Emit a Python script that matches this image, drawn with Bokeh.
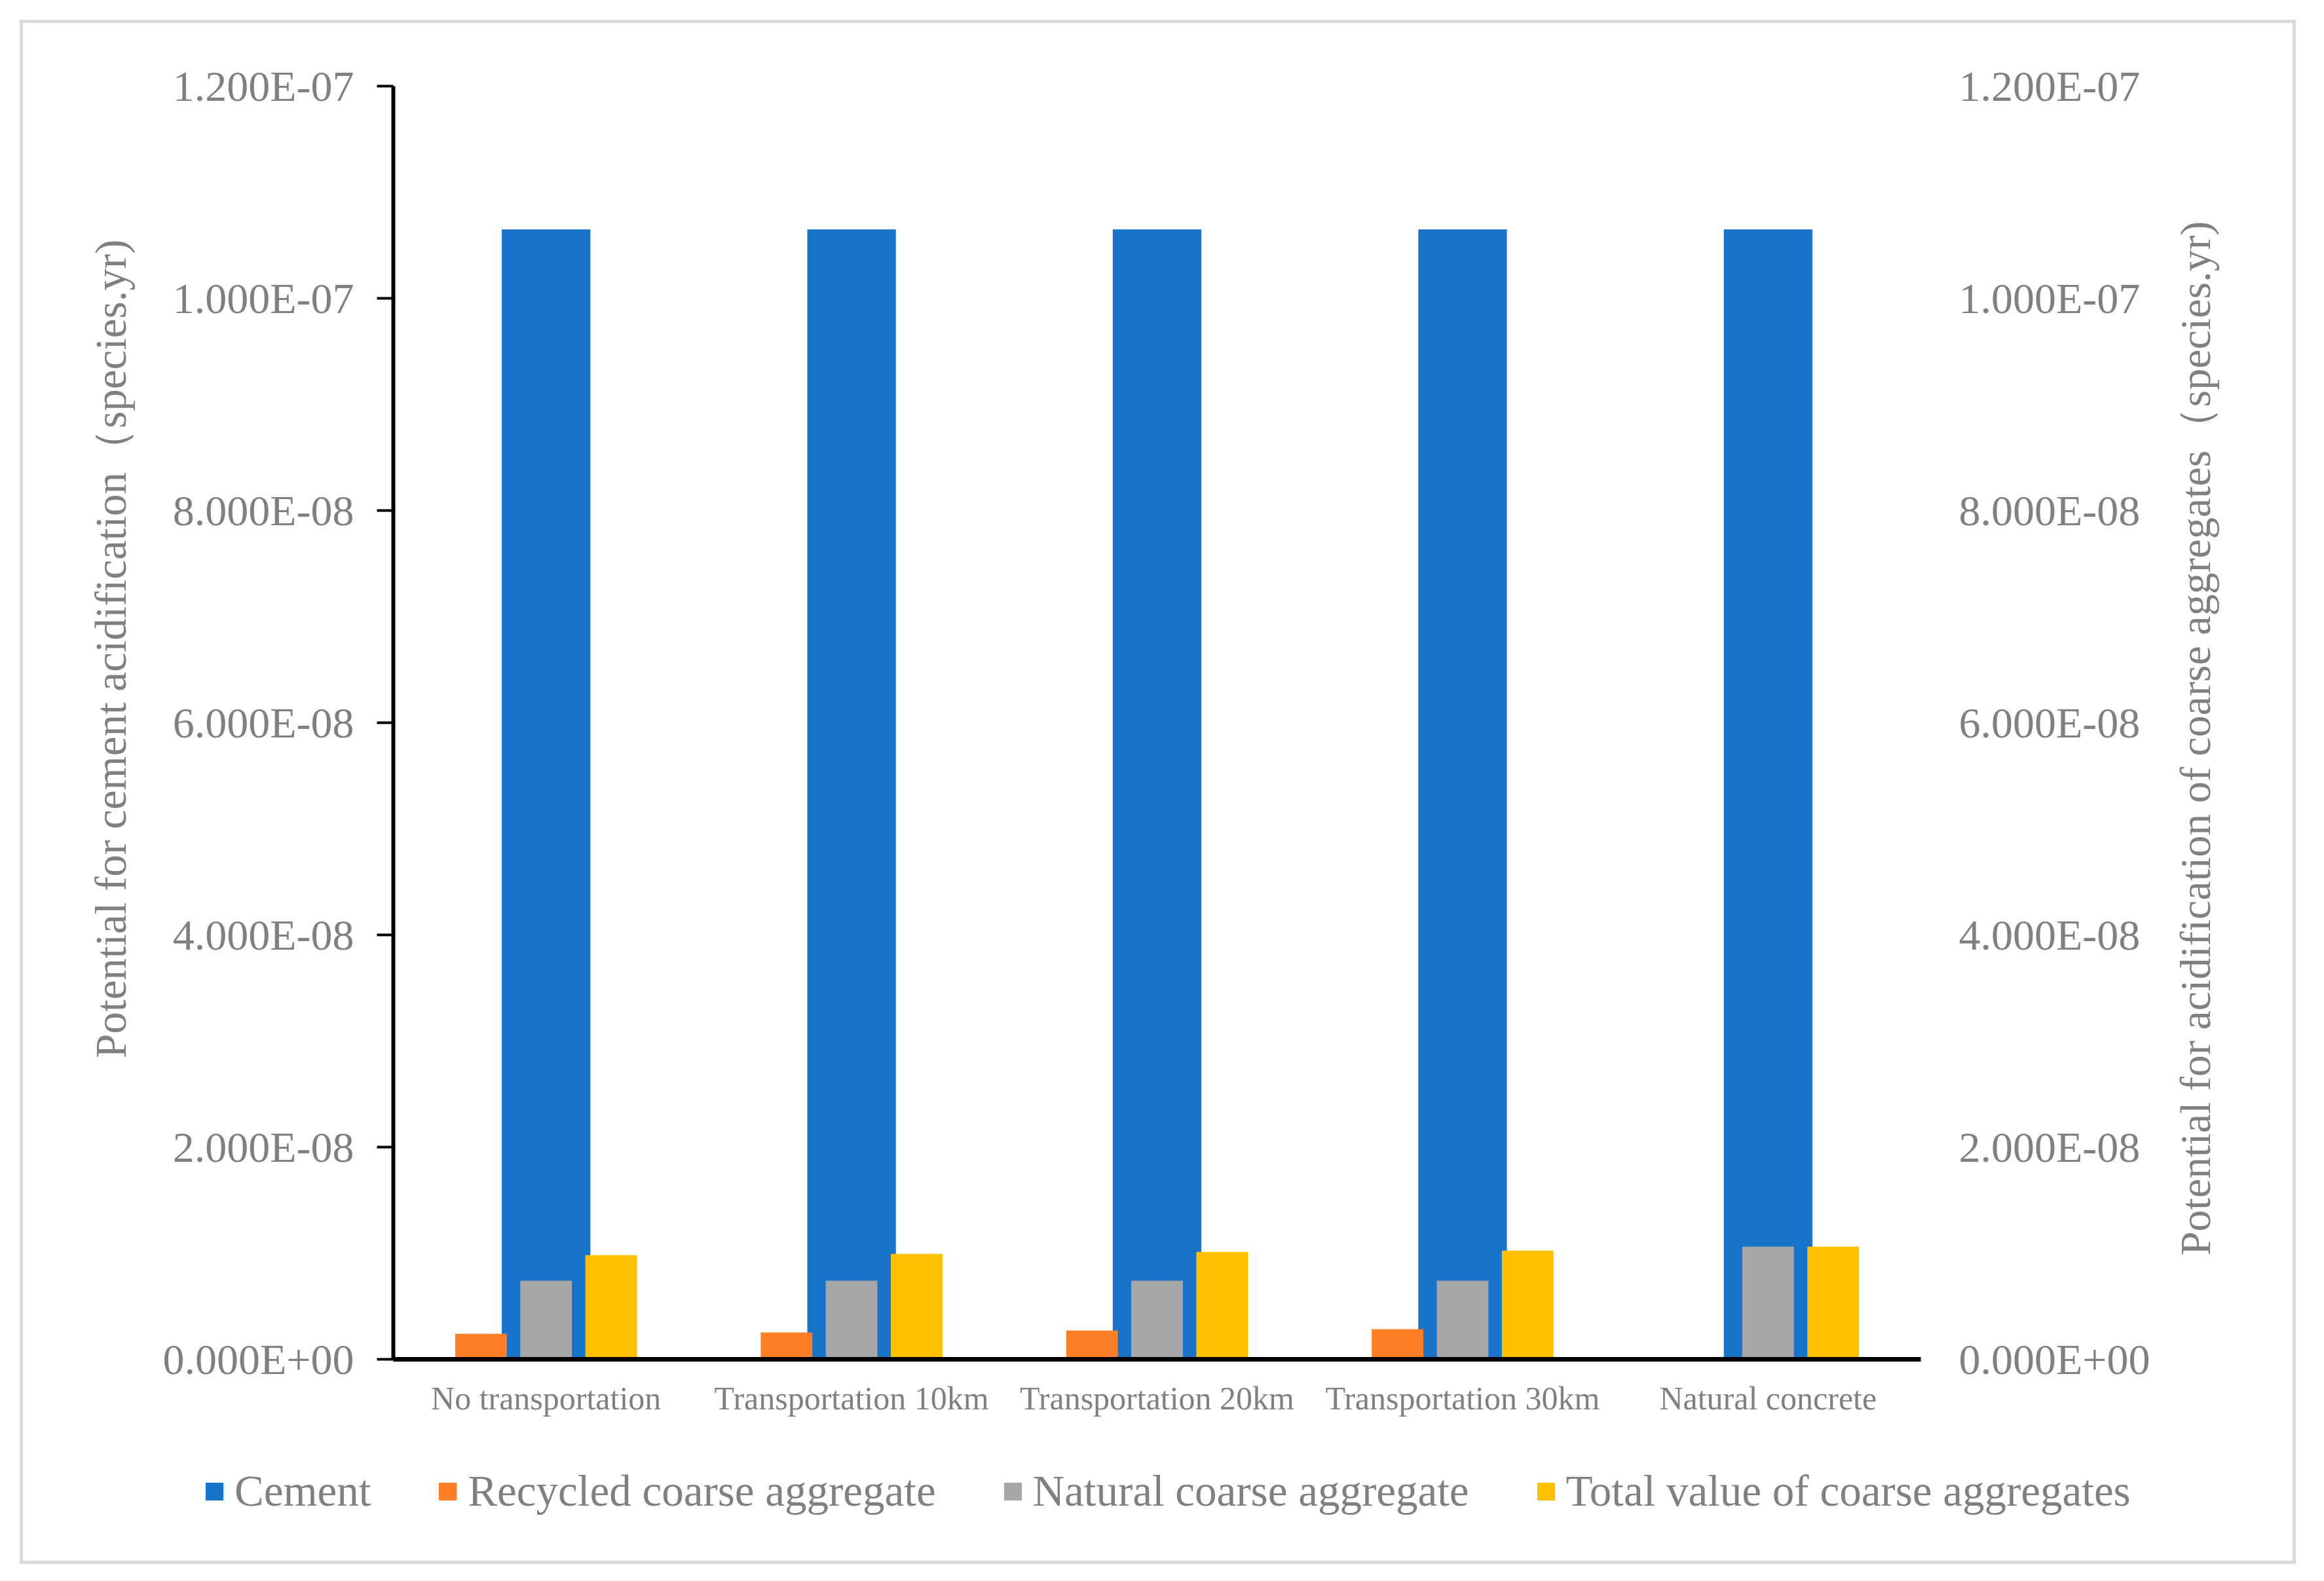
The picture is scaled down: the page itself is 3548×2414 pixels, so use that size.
import math
from bokeh.plotting import figure
from bokeh.layouts import row, column
from bokeh.models import (FactorRange, Range1d, LinearAxis, FixedTicker, Label,
                          CustomJSTickFormatter, Legend, LegendItem, ColumnDataSource)
from bokeh.transform import dodge
from bokeh.embed import file_html
from bokeh.resources import INLINE

# ---- data ----
categories = ["No transportation", "Transportation 10km", "Transportation 20km",
              "Transportation 30km", "Natural concrete"]
cement = [1.065e-7, 1.065e-7, 1.065e-7, 1.065e-7, 1.065e-7]
recycled = [2.40e-9, 2.53e-9, 2.72e-9, 2.84e-9, 0.0]
natural = [7.41e-9, 7.41e-9, 7.41e-9, 7.41e-9, 1.062e-8]
total = [9.81e-9, 9.94e-9, 1.013e-8, 1.025e-8, 1.062e-8]
y_ticks = [0, 2e-8, 4e-8, 6e-8, 8e-8, 1e-7, 1.2e-7]
series_names = ["Cement", "Recycled coarse aggregate", "Natural coarse aggregate",
                "Total value of coarse aggregates"]
left_title = "Potential for cement acidification（species.yr)"
right_title = "Potential for acidification of coarse aggregates（species.yr)"

FONT = "Liberation Serif"
GREY_TXT = "#808080"
colors = ["#1874CB", "#FE7F27", "#A7A7A7", "#FFC000"]

HTOP = 2148       # height of the chart row
HLEG = 200        # height of the legend strip
WL, WM, WR = 210, 3045, 210
WALL = WL + WM + WR


def bare(f):
    f.xgrid.visible = False
    f.ygrid.visible = False
    f.outline_line_color = None
    f.background_fill_color = "white"
    f.border_fill_color = "white"
    return f


def title_fig(width, text, x, y_from_top, size):
    f = bare(figure(width=width, height=HTOP, x_range=Range1d(0, width),
                    y_range=Range1d(0, HTOP), output_backend="svg",
                    toolbar_location=None, x_axis_location=None,
                    y_axis_location=None, min_border=0))
    f.add_layout(Label(x=x, y=HTOP - y_from_top, text=text, angle=math.pi / 2,
                       text_align="left", text_baseline="middle",
                       text_font=FONT, text_font_size=size, text_color=GREY_TXT))
    return f


left_fig = title_fig(WL, left_title, 133, 1640, "67px")
right_fig = title_fig(WR, right_title, 61, 1973, "66px")

src = ColumnDataSource(dict(cat=categories, cement=cement, recycled=recycled,
                            natural=natural, total=total))

p = bare(figure(width=WM, height=HTOP, x_range=FactorRange(*categories, range_padding=0),
                y_range=Range1d(0, 1.2e-7), output_backend="svg", toolbar_location=None,
                min_border_left=355, min_border_right=358, min_border_top=96,
                min_border_bottom=108))
p.extra_y_ranges = {"sec": Range1d(0, 1.2e-7)}

fmt = CustomJSTickFormatter(code="""
const s = tick.toExponential(3).split('e');
let e = parseInt(s[1]);
const sign = e < 0 ? '-' : '+';
e = Math.abs(e);
return s[0] + 'E' + sign + (e < 10 ? '0' : '') + e;
""")


def add_bars(f):
    rc = f.vbar(x=dodge('cat', 0.0, range=f.x_range), top='cement', width=0.29,
                source=src, color=colors[0], line_color=None)
    rr = f.vbar(x=dodge('cat', -0.213, range=f.x_range), top='recycled', width=0.169,
                source=src, color=colors[1], line_color=None, y_range_name="sec")
    rn = f.vbar(x=dodge('cat', 0.0, range=f.x_range), top='natural', width=0.169,
                source=src, color=colors[2], line_color=None, y_range_name="sec")
    rt = f.vbar(x=dodge('cat', 0.213, range=f.x_range), top='total', width=0.169,
                source=src, color=colors[3], line_color=None, y_range_name="sec")
    return [rc, rr, rn, rt]


add_bars(p)

# left axis
ya = p.yaxis[0]
ya.ticker = FixedTicker(ticks=y_ticks)
ya.formatter = fmt
ya.axis_line_width = 6
ya.axis_line_color = "black"
ya.major_tick_line_width = 4
ya.major_tick_line_color = "black"
ya.major_tick_out = 25
ya.major_tick_in = 0
ya.minor_tick_line_color = None
ya.major_label_standoff = 35
ya.major_label_text_font = FONT
ya.major_label_text_font_size = "66px"
ya.major_label_text_color = GREY_TXT

# right axis
ra = LinearAxis(y_range_name="sec", ticker=FixedTicker(ticks=y_ticks), formatter=fmt)
ra.axis_line_color = None
ra.major_tick_line_color = None
ra.minor_tick_line_color = None
ra.major_tick_out = 0
ra.major_tick_in = 0
ra.major_label_standoff = 58
ra.major_label_text_font = FONT
ra.major_label_text_font_size = "66px"
ra.major_label_text_color = GREY_TXT
p.add_layout(ra, "right")

# x axis
xa = p.xaxis[0]
xa.axis_line_width = 7
xa.axis_line_color = "black"
xa.major_tick_line_color = None
xa.minor_tick_line_color = None
xa.major_tick_out = 0
xa.major_tick_in = 0
xa.major_label_standoff = 31
xa.major_label_text_font = FONT
xa.major_label_text_font_size = "50px"
xa.major_label_text_color = GREY_TXT

# legend strip: same series, drawn below its visible y window so only the key shows
leg = bare(figure(width=WALL, height=HLEG, x_range=FactorRange(*categories, range_padding=0),
                  y_range=Range1d(1, 2), output_backend="svg", toolbar_location=None,
                  x_axis_location=None, y_axis_location=None, min_border=0))
leg.extra_y_ranges = {"sec": Range1d(1, 2)}
leg_r = add_bars(leg)

legend = Legend(items=[LegendItem(label=n, renderers=[r]) for n, r in zip(series_names, leg_r)],
                orientation="horizontal", location=(275, 68))
legend.label_text_font = FONT
legend.label_text_font_size = "67px"
legend.label_text_color = GREY_TXT
legend.glyph_width = 34
legend.glyph_height = 34
legend.label_standoff = 14
legend.spacing = 100
legend.padding = 0
legend.margin = 0
legend.border_line_color = None
legend.background_fill_alpha = 0
leg.add_layout(legend, "center")

lay = column(row(left_fig, p, right_fig), leg)
lay.styles = {"margin-left": "30px", "margin-top": "30px", "border": "5px solid #D9D9D9"}

open("out.html", "w").write(file_html(lay, INLINE))
